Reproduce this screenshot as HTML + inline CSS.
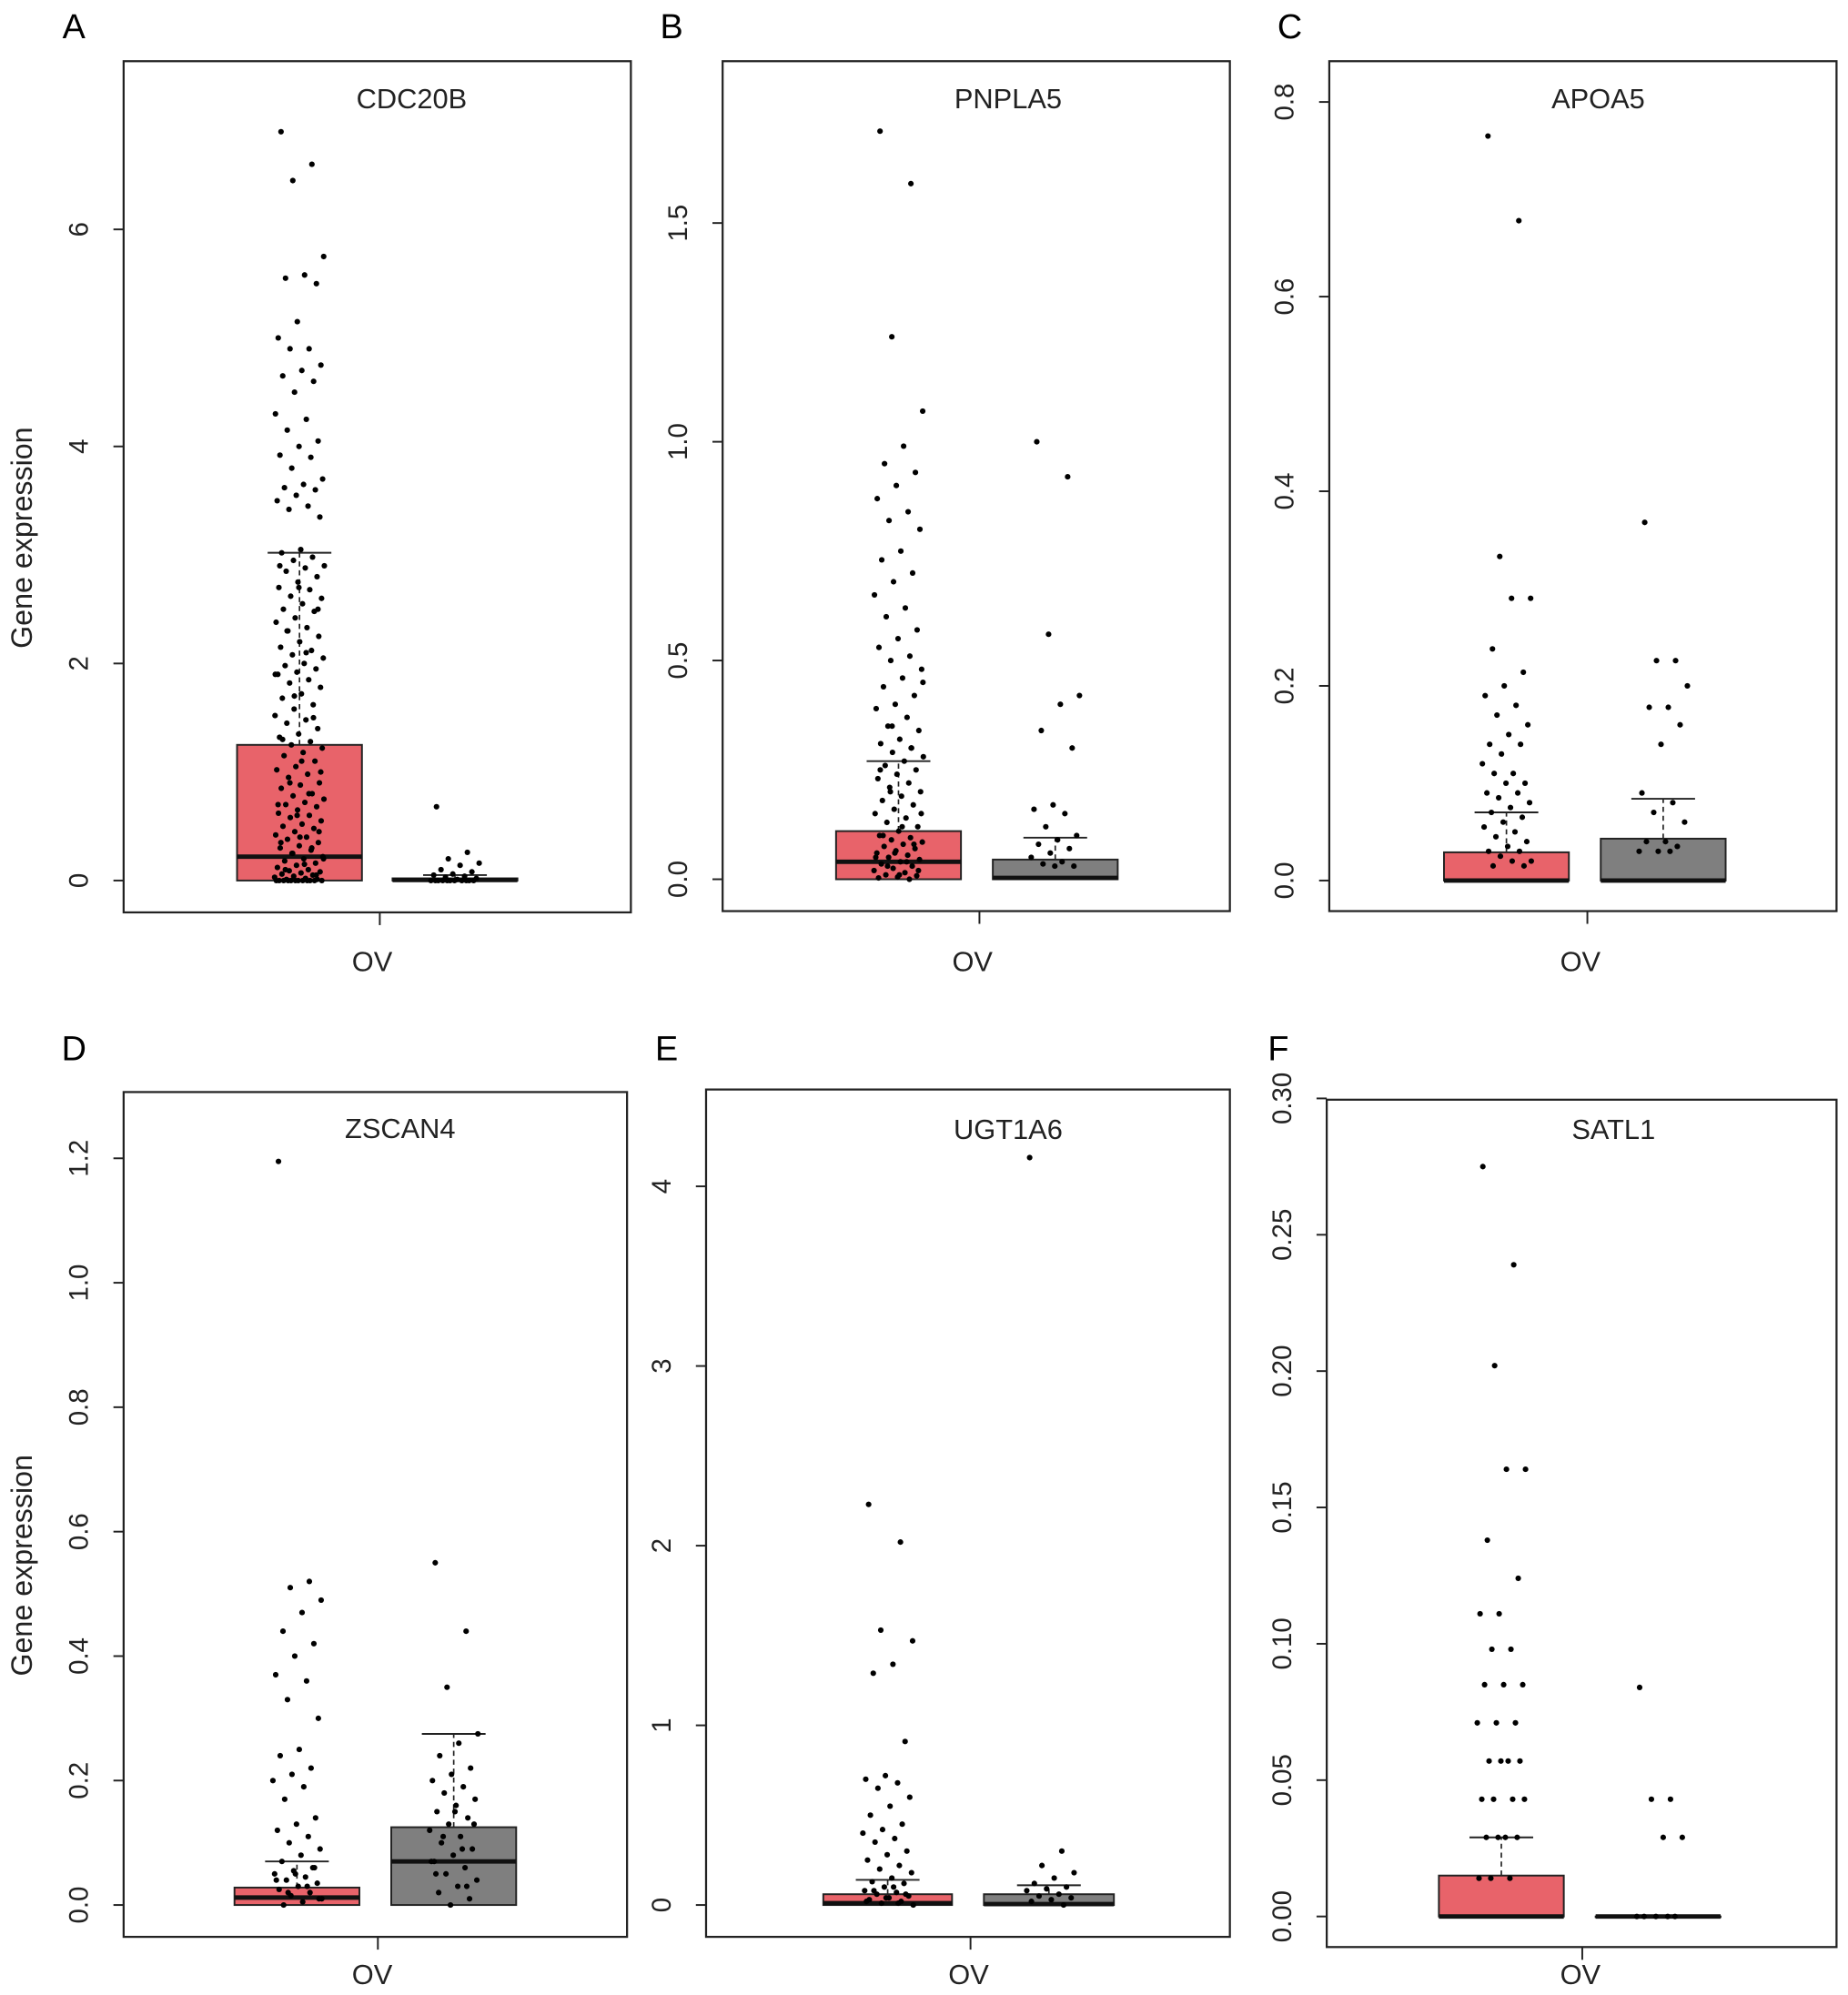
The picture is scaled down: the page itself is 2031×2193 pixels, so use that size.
<!DOCTYPE html>
<html><head><meta charset="utf-8"><style>
html,body{margin:0;padding:0;background:#fff;}
svg{display:block;font-family:"Liberation Sans",Arial,sans-serif;}
</style></head><body>
<svg id="fig" width="2031" height="2193" viewBox="0 0 1450 1565.6" xmlns="http://www.w3.org/2000/svg"></svg>
<script>
// ---------- DATA ----------
const panelLetters = ["A","B","C","D","E","F"];
const geneTitles = ["CDC20B","PNPLA5","APOA5","ZSCAN4","UGT1A6","SATL1"];
const categoryLabel = "OV";
const tickLabelsA = ["0","2","4","6"];           const ticksA = [0,2,4,6];
const tickLabelsB = ["0.0","0.5","1.0","1.5"];   const ticksB = [0,0.5,1.0,1.5];
const tickLabelsC = ["0.0","0.2","0.4","0.6","0.8"]; const ticksC = [0,0.2,0.4,0.6,0.8];
const tickLabelsD = ["0.0","0.2","0.4","0.6","0.8","1.0","1.2"]; const ticksD = [0,0.2,0.4,0.6,0.8,1.0,1.2];
const tickLabelsE = ["0","1","2","3","4"];       const ticksE = [0,1,2,3,4];
const tickLabelsF = ["0.00","0.05","0.10","0.15","0.20","0.25","0.30"]; const ticksF = [0,0.05,0.10,0.15,0.20,0.25,0.30];
// box stats: [q1, median, q3, whiskerHigh]
const boxA_red = [0, 0.22, 1.25, 3.02];   const boxA_grey = [0, 0.005, 0.02, 0.05];
const boxB_red = [0, 0.04, 0.11, 0.27];   const boxB_grey = [0, 0.003, 0.045, 0.095];
const boxC_red = [0, 0, 0.029, 0.07];     const boxC_grey = [0, 0, 0.043, 0.084];
const boxD_red = [0, 0.012, 0.028, 0.07]; const boxD_grey = [0, 0.07, 0.125, 0.275];
const boxE_red = [0, 0.01, 0.06, 0.14];   const boxE_grey = [0, 0.005, 0.06, 0.11];
const boxF_red = [0, 0, 0.015, 0.029];    const boxF_grey = [0, 0, 0, 0];
// points
const ptsA_red = [6.9,6.6,6.45,5.75,5.58,5.55,5.5,5.15,5.0,4.9,4.9,4.75,4.7,4.65,4.6,4.5,4.3,4.25,4.15,4.05,4.0,3.92,3.9,3.8,3.7,3.65,3.62,3.6,3.55,3.5,3.45,3.42,3.35,3.05,3.02,2.98,2.95,2.9,2.88,2.85,2.8,2.75,2.7,2.68,2.62,2.6,2.55,2.5,2.48,2.42,2.38,2.33,2.3,2.25,2.2,2.15,2.12,2.08,2.05,2.0,1.98,1.95,1.92,1.9,1.85,1.82,1.78,1.72,1.68,1.62,1.58,1.52,1.48,1.45,1.4,1.35,1.32,1.28,1.25,1.22,1.18,1.15,1.1,1.05,1.02,0.98,0.95,0.9,0.88,0.85,0.8,0.78,0.75,0.72,0.7,0.68,0.65,0.62,0.6,0.58,0.55,0.52,0.5,0.48,0.45,0.42,0.4,0.38,0.35,0.32,0.3,0.28,0.25,0.22,0.2,0.18,0.16,0.14,0.12,0.1,0.09,0.08,0.07,0.06,0.05,0.04,0.03,0.02,0.01,0.01,0,0,0,0,0,0,0,0,0,0,0,0,0.45,0.4,0.35,0.3,0.25,0.2,0.15,0.1,0.05,0.6,0.7,0.8,0.9,1.0,1.1,1.3,1.5,1.7,1.9,2.1,2.3,2.5,2.7,2.9];
const ptsA_grey = [0.68,0.26,0.2,0.16,0.14,0.1,0.08,0.06,0.05,0.04,0.03,0.02,0.01,0,0,0,0,0,0,0,0,0,0,0];
const ptsB_red = [1.71,1.59,1.24,1.07,0.99,0.95,0.93,0.9,0.87,0.84,0.82,0.8,0.75,0.73,0.7,0.68,0.65,0.62,0.6,0.57,0.55,0.53,0.51,0.5,0.48,0.46,0.44,0.42,0.4,0.39,0.37,0.35,0.34,0.32,0.31,0.3,0.29,0.28,0.27,0.26,0.25,0.24,0.23,0.22,0.21,0.2,0.19,0.18,0.17,0.16,0.15,0.14,0.13,0.12,0.11,0.1,0.095,0.09,0.085,0.08,0.075,0.07,0.065,0.06,0.055,0.05,0.045,0.04,0.035,0.03,0.025,0.02,0.015,0.01,0.008,0.005,0.003,0,0.2,0.15,0.12,0.1,0.08,0.06,0.05,0.04,0.03,0.02,0.01,0.25,0.3,0.35,0.45];
const ptsB_grey = [1.0,0.92,0.56,0.42,0.4,0.34,0.3,0.17,0.16,0.15,0.12,0.1,0.09,0.08,0.07,0.06,0.05,0.04,0.035,0.03,0.03];
const ptsC_red = [0.765,0.678,0.333,0.29,0.29,0.238,0.214,0.2,0.19,0.18,0.17,0.16,0.15,0.14,0.14,0.13,0.12,0.11,0.11,0.1,0.1,0.09,0.09,0.085,0.08,0.075,0.07,0.065,0.06,0.055,0.05,0.045,0.04,0.035,0.03,0.03,0.025,0.02,0.02,0.015,0.015];
const ptsC_grey = [0.368,0.226,0.226,0.2,0.178,0.178,0.16,0.14,0.09,0.08,0.07,0.06,0.04,0.04,0.035,0.03,0.03,0.03];
const ptsD_red = [1.195,0.52,0.51,0.49,0.47,0.44,0.42,0.4,0.37,0.36,0.33,0.3,0.25,0.24,0.22,0.21,0.2,0.19,0.17,0.14,0.13,0.12,0.11,0.1,0.09,0.08,0.07,0.06,0.055,0.05,0.045,0.04,0.035,0.03,0.025,0.02,0.015,0.01,0.005,0,0.06,0.05,0.04,0.03,0.02,0.01];
const ptsD_grey = [0.55,0.44,0.35,0.275,0.26,0.24,0.22,0.21,0.2,0.19,0.18,0.17,0.16,0.15,0.14,0.13,0.12,0.11,0.1,0.09,0.08,0.07,0.06,0.05,0.04,0.03,0.02,0.01,0,0.07,0.09,0.11,0.13,0.15,0.05,0.03];
const ptsE_red = [2.23,2.02,1.53,1.47,1.34,1.29,0.91,0.72,0.7,0.68,0.65,0.6,0.55,0.5,0.45,0.42,0.4,0.37,0.35,0.3,0.28,0.25,0.22,0.2,0.18,0.15,0.13,0.12,0.1,0.08,0.07,0.06,0.05,0.04,0.03,0.02,0.01,0,0.1,0.08,0.06,0.04,0.02,0.01];
const ptsE_grey = [4.16,0.3,0.22,0.18,0.15,0.12,0.1,0.09,0.08,0.06,0.05,0.04,0.03,0.02,0];
const ptsF_red = [0.275,0.239,0.202,0.164,0.164,0.138,0.124,0.111,0.111,0.098,0.098,0.085,0.085,0.085,0.071,0.071,0.071,0.057,0.057,0.057,0.057,0.043,0.043,0.043,0.043,0.029,0.029,0.029,0.029,0.014,0.014,0.014];
const ptsF_grey = [0.084,0.043,0.043,0.029,0.029,0,0,0,0,0];

// ---------- LAYOUT (preview coordinates) ----------
const panels = [
 {L:97,R:495,T:48,B:716,y0:691,yTopVal:6,yTop:180,ticks:ticksA,tl:tickLabelsA,red:[186,284],grey:[308,406],bR:boxA_red,bG:boxA_grey,pR:ptsA_red,pG:ptsA_grey,lx:58,ly:20,tx:323,ty:77,ox:292,oy:754,ylab:true},
 {L:567,R:965,T:48,B:715,y0:690,yTopVal:1.5,yTop:175,ticks:ticksB,tl:tickLabelsB,red:[656,754],grey:[779,877],bR:boxB_red,bG:boxB_grey,pR:ptsB_red,pG:ptsB_grey,lx:527,ly:20,tx:791,ty:77,ox:763,oy:754},
 {L:1043,R:1441,T:48,B:715,y0:691,yTopVal:0.8,yTop:80,ticks:ticksC,tl:tickLabelsC,red:[1133,1231],grey:[1256,1354],bR:boxC_red,bG:boxC_grey,pR:ptsC_red,pG:ptsC_grey,lx:1012,ly:20,tx:1254,ty:77,ox:1240,oy:754},
 {L:97,R:492,T:857,B:1520,y0:1495,yTopVal:1.2,yTop:909,ticks:ticksD,tl:tickLabelsD,red:[184,282],grey:[307,405],bR:boxD_red,bG:boxD_grey,pR:ptsD_red,pG:ptsD_grey,lx:58,ly:822,tx:314,ty:885,ox:292,oy:1549,ylab:true},
 {L:554,R:965,T:855,B:1520,y0:1495,yTopVal:4,yTop:931,ticks:ticksE,tl:tickLabelsE,red:[646,747],grey:[772,874],bR:boxE_red,bG:boxE_grey,pR:ptsE_red,pG:ptsE_grey,lx:523,ly:822,tx:791,ty:886,ox:760,oy:1549},
 {L:1041,R:1441,T:863,B:1528,y0:1504,yTopVal:0.30,yTop:862,ticks:ticksF,tl:tickLabelsF,red:[1129,1227],grey:[1252,1350],bR:boxF_red,bG:boxF_grey,pR:ptsF_red,pG:ptsF_grey,lx:1003,ly:822,tx:1266,ty:886,ox:1240,oy:1549}
];
const NS="http://www.w3.org/2000/svg";
const svg=document.getElementById('fig');
function mk(tag,attrs,parent){const e=document.createElementNS(NS,tag);for(const k in attrs)e.setAttribute(k,attrs[k]);(parent||svg).appendChild(e);return e;}

panels.forEach((p,i)=>{
  const g=mk('g',{});
  
  
  const ys=v=>p.y0-(v/p.yTopVal)*(p.y0-p.yTop);
  const lt=mk('text',{x:p.lx,y:p.ly+10,'font-size':27,'text-anchor':'middle'},g);lt.textContent=panelLetters[i];
  
  
  const fr=mk('rect',{x:p.L,y:p.T,width:p.R-p.L,height:p.B-p.T,fill:'none',stroke:'#222','stroke-width':1.6},g);
  
  
  const tt=mk('text',{x:p.tx,y:p.ty+8,'font-size':22,'text-anchor':'middle',fill:'#222'},g);tt.textContent=geneTitles[i];
  
  
  const ax=mk('g',{},g);
  
  
  p.ticks.forEach((t,j)=>{
    const y=ys(t);
    mk('line',{x1:p.L-8,x2:p.L,y1:y,y2:y,stroke:'#222','stroke-width':1.4},ax);
    const tx=mk('text',{x:0,y:0,'font-size':21,'text-anchor':'middle',fill:'#222',transform:`translate(${p.L-28},${y}) rotate(-90)`},ax);
    tx.textContent=p.tl[j];
    
    
  });
  const cx=(p.red[1]+p.grey[0])/2+2;
  mk('line',{x1:cx,x2:cx,y1:p.B,y2:p.B+10,stroke:'#222','stroke-width':1.4},g);
  const xl=mk('text',{x:p.ox,y:p.oy+8,'font-size':22,'text-anchor':'middle',fill:'#222'},g);xl.textContent=categoryLabel;
  
  
  if(p.ylab){
    const yl=mk('text',{x:0,y:0,'font-size':23,'text-anchor':'middle',fill:'#222',transform:`translate(25,${(p.T+p.B)/2+40}) rotate(-90)`},g);
    yl.textContent='Gene expression';
    
    
  }
  [[p.red,p.bR,p.pR,'#e8636a','red'],[p.grey,p.bG,p.pG,'#7f7f7f','grey']].forEach(([xr,b,pts,col,nm])=>{
    const bg=mk('g',{},g);
    
    
    const mid=(xr[0]+xr[1])/2;
    mk('line',{x1:mid,x2:mid,y1:ys(b[2]),y2:ys(b[3]),stroke:'#222','stroke-width':1.2,'stroke-dasharray':'4,3'},bg);
    mk('line',{x1:mid-25,x2:mid+25,y1:ys(b[3]),y2:ys(b[3]),stroke:'#222','stroke-width':1.4},bg);
    mk('rect',{x:xr[0],y:ys(b[2]),width:xr[1]-xr[0],height:Math.max(ys(b[0])-ys(b[2]),0.5),fill:col,stroke:'#222','stroke-width':1.4},bg);
    mk('line',{x1:xr[0],x2:xr[1],y1:ys(b[1]),y2:ys(b[1]),stroke:'#111','stroke-width':3.5},bg);
    const w=(xr[1]-xr[0])*0.2;
    pts.forEach((v,k)=>{
      const f=((k*0.6180339+0.13)%1)*2-1;
      const c=mk('circle',{cx:mid+f*w,cy:ys(v),r:2.2,fill:'#000'},bg);
      
      
    });
  });
});
</script>
</body></html>
